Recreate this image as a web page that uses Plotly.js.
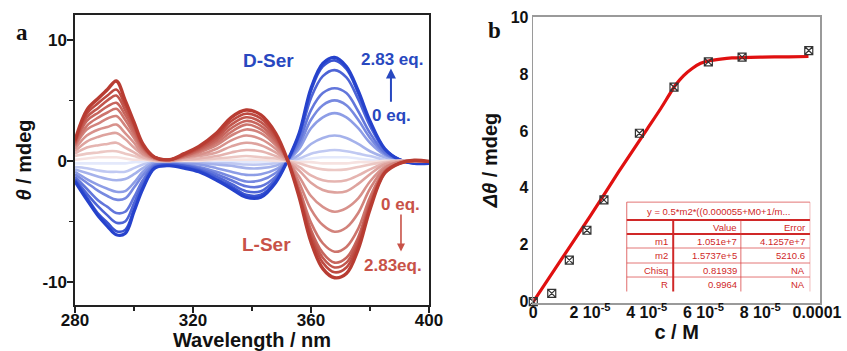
<!DOCTYPE html>
<html>
<head>
<meta charset="utf-8">
<script src="https://cdn.plot.ly/plotly-3.0.1.min.js"></script>
<style>html,body{margin:0;padding:0;background:#fff;}#chart{width:847px;height:351px;}</style>
</head>
<body>
<div id="chart"></div>
<script>
// ---------- Panel a: CD spectra ----------
const wavelength = [280, 284, 288, 291, 294, 297, 300, 303, 307, 312, 317, 322, 328, 333, 338, 343, 348, 352, 356, 360, 364, 368, 372, 376, 380, 385, 390, 395, 400];

// L-Ser titration, 0 eq. -> 2.83 eq.
const lSer0  = [0.1, 0.2, 0.3, 0.3, 0.3, 0.2, 0.1, 0.1, 0.0, 0.0, 0.0, 0.0, 0.1, 0.1, 0.1, 0.1, 0.0, 0.0, -0.1, -0.1, -0.2, -0.2, -0.2, -0.1, -0.1, 0.0, 0.0, 0.0, 0.0];
const lSer1  = [0.4, 0.6, 0.7, 0.8, 0.8, 0.6, 0.4, 0.2, 0.0, 0.0, 0.1, 0.1, 0.2, 0.3, 0.4, 0.3, 0.2, 0.0, -0.2, -0.5, -0.7, -0.75, -0.7, -0.5, -0.3, -0.1, 0.0, 0.0, -0.05];
const lSer2  = [0.6, 1.1, 1.3, 1.4, 1.5, 1.1, 0.7, 0.3, 0.1, 0.0, 0.1, 0.2, 0.4, 0.7, 0.9, 0.8, 0.4, 0.0, -0.5, -1.2, -1.6, -1.7, -1.6, -1.2, -0.7, -0.2, 0.0, 0.0, -0.05];
const lSer3  = [0.8, 1.6, 2.0, 2.2, 2.3, 1.8, 1.1, 0.5, 0.1, 0.0, 0.2, 0.4, 0.7, 1.2, 1.5, 1.3, 0.7, 0.0, -0.8, -1.8, -2.4, -2.6, -2.5, -1.9, -1.1, -0.3, -0.1, 0.0, -0.05];
const lSer4  = [1.0, 2.1, 2.6, 2.8, 3.0, 2.3, 1.5, 0.6, 0.2, 0.0, 0.3, 0.5, 1.0, 1.7, 2.1, 1.8, 1.0, 0.0, -1.3, -2.9, -3.8, -4.2, -3.9, -3.1, -1.7, -0.5, -0.1, 0.0, -0.05];
const lSer5  = [1.2, 2.6, 3.1, 3.5, 3.7, 2.9, 1.9, 0.8, 0.2, 0.1, 0.3, 0.7, 1.3, 2.1, 2.6, 2.3, 1.3, 0.1, -1.8, -4.0, -5.3, -5.85, -5.5, -4.3, -2.3, -0.6, -0.1, 0.0, -0.05];
const lSer6  = [1.3, 2.9, 3.6, 4.0, 4.3, 3.4, 2.2, 1.0, 0.2, 0.1, 0.4, 0.8, 1.5, 2.4, 3.0, 2.6, 1.5, 0.1, -2.3, -5.1, -6.8, -7.5, -7.1, -5.6, -3.0, -0.8, -0.2, 0.0, -0.05];
const lSer7  = [1.4, 3.3, 4.0, 4.5, 4.8, 3.8, 2.5, 1.1, 0.3, 0.1, 0.4, 0.9, 1.7, 2.7, 3.3, 2.9, 1.7, 0.1, -2.5, -5.7, -7.6, -8.4, -8.0, -6.3, -3.4, -0.9, -0.2, 0.0, -0.05];
const lSer8  = [1.5, 3.6, 4.4, 5.0, 5.4, 4.2, 2.8, 1.2, 0.3, 0.1, 0.5, 1.0, 1.9, 3.0, 3.6, 3.2, 1.9, 0.1, -2.7, -6.0, -8.0, -8.8, -8.4, -6.6, -3.6, -0.9, -0.2, 0.0, -0.05];
const lSer9  = [1.6, 3.9, 4.8, 5.4, 5.9, 4.6, 3.0, 1.3, 0.3, 0.1, 0.5, 1.1, 2.1, 3.3, 3.9, 3.5, 2.1, 0.1, -2.8, -6.3, -8.4, -9.2, -8.8, -6.9, -3.8, -1.0, -0.2, 0.05, -0.05];
const lSer10 = [1.7, 4.2, 5.2, 5.9, 6.6, 5.0, 3.2, 1.4, 0.3, 0.1, 0.6, 1.2, 2.3, 3.6, 4.2, 3.8, 2.3, 0.1, -3.0, -6.7, -8.9, -9.65, -9.3, -7.3, -4.0, -1.0, -0.2, 0.05, -0.05];

// D-Ser titration, 0 eq. -> 2.83 eq.
const dSer0 = [-0.2, -0.2, -0.2, -0.2, -0.2, -0.2, -0.1, -0.1, 0.0, 0.0, 0.0, 0.0, -0.1, -0.1, -0.1, -0.1, -0.1, 0.0, 0.1, 0.2, 0.3, 0.3, 0.3, 0.2, 0.1, 0.0, 0.0, 0.0, 0.0];
const dSer1 = [-0.5, -0.6, -0.8, -0.9, -0.9, -0.9, -0.6, -0.3, -0.1, -0.1, -0.1, -0.1, -0.2, -0.2, -0.3, -0.3, -0.2, 0.0, 0.2, 0.6, 0.8, 0.9, 0.8, 0.6, 0.4, 0.1, 0.0, -0.1, -0.1];
const dSer2 = [-0.7, -1.0, -1.3, -1.5, -1.6, -1.5, -1.1, -0.6, -0.1, -0.1, -0.1, -0.2, -0.3, -0.4, -0.6, -0.6, -0.4, 0.0, 0.5, 1.4, 1.9, 2.1, 1.9, 1.4, 0.8, 0.3, 0.0, -0.1, -0.1];
const dSer3 = [-0.9, -1.5, -2.0, -2.3, -2.55, -2.5, -1.8, -0.9, -0.2, -0.2, -0.2, -0.3, -0.6, -0.9, -1.15, -1.1, -0.7, 0.0, 1.0, 2.7, 3.6, 3.95, 3.6, 2.7, 1.5, 0.5, 0.1, -0.1, -0.2];
const dSer4 = [-1.1, -1.8, -2.5, -2.9, -3.2, -3.1, -2.2, -1.2, -0.3, -0.2, -0.3, -0.5, -0.9, -1.3, -1.7, -1.6, -1.0, 0.0, 1.3, 3.4, 4.6, 5.0, 4.6, 3.4, 1.9, 0.6, 0.1, -0.1, -0.2];
const dSer5 = [-1.3, -2.3, -3.3, -3.8, -4.3, -4.2, -3.0, -1.6, -0.4, -0.3, -0.4, -0.6, -1.1, -1.6, -2.1, -2.1, -1.3, 0.0, 1.6, 4.2, 5.6, 6.0, 5.6, 4.1, 2.3, 0.7, 0.1, -0.2, -0.2];
const dSer6 = [-1.5, -2.7, -3.8, -4.5, -5.1, -5.0, -3.5, -1.9, -0.5, -0.3, -0.4, -0.7, -1.3, -1.9, -2.5, -2.5, -1.5, 0.0, 2.0, 5.2, 7.0, 7.5, 6.9, 5.1, 2.9, 0.9, 0.1, -0.2, -0.2];
const dSer7 = [-1.6, -3.0, -4.4, -5.1, -5.8, -5.7, -4.0, -2.2, -0.6, -0.4, -0.5, -0.8, -1.5, -2.1, -2.8, -2.8, -1.7, 0.0, 2.2, 5.8, 7.8, 8.3, 7.6, 5.6, 3.2, 1.0, 0.1, -0.2, -0.2];
const dSer8 = [-1.7, -3.2, -4.6, -5.4, -6.1, -6.0, -4.2, -2.3, -0.6, -0.4, -0.6, -0.9, -1.6, -2.3, -3.0, -3.0, -1.8, 0.0, 2.3, 6.0, 8.05, 8.55, 7.8, 5.8, 3.3, 1.0, 0.1, -0.2, -0.2];

const lSerCurves = [lSer0, lSer1, lSer2, lSer3, lSer4, lSer5, lSer6, lSer7, lSer8, lSer9, lSer10];
const dSerCurves = [dSer0, dSer1, dSer2, dSer3, dSer4, dSer5, dSer6, dSer7, dSer8];

const yTickVals1 = [-10, 0, 10];
const yTickText1 = ['-10', '0', '10'];

// ---------- Panel b: titration fit ----------
const conc = [0, 0.65e-5, 1.27e-5, 1.89e-5, 2.49e-5, 3.74e-5, 4.96e-5, 6.17e-5, 7.36e-5, 9.71e-5];
const deltaTheta = [0, 0.29, 1.46, 2.51, 3.58, 5.92, 7.54, 8.43, 8.60, 8.83];
const fitConc = [0, 1e-5, 2e-5, 3e-5, 4e-5, 4.5e-5, 5e-5, 5.3e-5, 5.6e-5, 5.9e-5, 6.2e-5, 6.6e-5, 7e-5, 8e-5, 9e-5, 9.7e-5];
const fitTheta = [0, 1.5, 3.0, 4.55, 6.05, 6.8, 7.6, 7.95, 8.2, 8.38, 8.47, 8.53, 8.57, 8.6, 8.61, 8.62];

const xTickVals2 = [0, 2e-5, 4e-5, 6e-5, 8e-5, 1e-4];
const xTickText2 = ['0', '2 10<sup>-5</sup>', '4 10<sup>-5</sup>', '6 10<sup>-5</sup>', '8 10<sup>-5</sup>', '0.0001'];

const fitEquation = 'y = 0.5*m2*((0.000055+M0+1/m...';
const tableHeader = ['Value', 'Error'];
const tableParams = ['m1', 'm2', 'Chisq', 'R'];
const tableValues = ['1.051e+7', '1.5737e+5', '0.81939', '0.9964'];
const tableErrors = ['4.1257e+7', '5210.6', 'NA', 'NA'];

// ---------- styling helpers ----------
function mix(c0, c1, t) {
  return 'rgb(' + c0.map((v, i) => Math.round(v + (c1[i] - v) * t)).join(',') + ')';
}
const redLight = [246, 226, 224], redDark = [184, 60, 50];
const blueLight = [228, 233, 251], blueDark = [38, 66, 204];

const traces = [];
dSerCurves.forEach((ys, i) => {
  const t = i / (dSerCurves.length - 1);
  traces.push({
    x: wavelength, y: ys, type: 'scatter', mode: 'lines', xaxis: 'x', yaxis: 'y',
    line: {color: mix(blueLight, blueDark, Math.pow(t, 0.8)), width: i === dSerCurves.length - 1 ? 3.2 : 2.6, shape: 'spline', smoothing: 1},
    hoverinfo: 'skip', showlegend: false
  });
});
lSerCurves.forEach((ys, i) => {
  const t = i / (lSerCurves.length - 1);
  traces.push({
    x: wavelength, y: ys, type: 'scatter', mode: 'lines', xaxis: 'x', yaxis: 'y',
    line: {color: mix(redLight, redDark, Math.pow(t, 0.8)), width: i === lSerCurves.length - 1 ? 3.4 : 2.6, shape: 'spline', smoothing: 1},
    hoverinfo: 'skip', showlegend: false
  });
});
traces.push({
  x: fitConc, y: fitTheta, type: 'scatter', mode: 'lines', xaxis: 'x2', yaxis: 'y2',
  line: {color: '#e01010', width: 3.2, shape: 'spline', smoothing: 0.6}, showlegend: false
});
traces.push({
  x: conc, y: deltaTheta, type: 'scatter', mode: 'markers', xaxis: 'x2', yaxis: 'y2', cliponaxis: false,
  marker: {symbol: 'square-x-open', size: 8, color: '#333', line: {width: 1.2}}, showlegend: false
});

const FONT = 'Liberation Sans, Arial, sans-serif';
const SERIF = 'Liberation Serif, Times New Roman, serif';
const blueTxt = 'rgb(40,72,192)', redTxt = 'rgb(200,82,72)';

function txt(xref, yref, x, y, text, font, extra) {
  return Object.assign({xref: xref, yref: yref, x: x, y: y, text: text, showarrow: false,
    xanchor: 'center', yanchor: 'middle', font: font}, extra || {});
}

const annotations = [
  txt('paper', 'paper', 22 / 847, 1 - 32 / 351, 'a', {family: SERIF, size: 23, weight: 'bold', color: '#111'}),
  txt('paper', 'paper', 494 / 847, 1 - 31 / 351, 'b', {family: SERIF, size: 23, weight: 'bold', color: '#111'}),
  txt('x', 'y', 345.5, 8.33, 'D-Ser', {family: FONT, size: 19, weight: 'bold', color: blueTxt}),
  txt('x', 'y', 387.6, 8.38, '2.83 eq.', {family: FONT, size: 17, weight: 'bold', color: blueTxt}),
  txt('x', 'y', 387.4, 3.79, '0 eq.', {family: FONT, size: 17, weight: 'bold', color: blueTxt}),
  {xref: 'x', yref: 'y', x: 387.1, y: 7.64, ax: 387.1, ay: 4.76, axref: 'x', ayref: 'y', text: '', showarrow: true, arrowhead: 2, arrowsize: 1, arrowwidth: 2, arrowcolor: blueTxt},
  txt('x', 'y', 345.0, -6.92, 'L-Ser', {family: FONT, size: 19, weight: 'bold', color: redTxt}),
  txt('x', 'y', 390.4, -3.63, '0 eq.', {family: FONT, size: 17, weight: 'bold', color: redTxt}),
  txt('x', 'y', 387.8, -8.66, '2.83eq.', {family: FONT, size: 17, weight: 'bold', color: redTxt}),
  {xref: 'x', yref: 'y', x: 390.5, y: -7.48, ax: 390.5, ay: -4.31, axref: 'x', ayref: 'y', text: '', showarrow: true, arrowhead: 2, arrowsize: 1, arrowwidth: 1.6, arrowcolor: redTxt}
];

// table inside panel b (positions in x2/y2 domain units)
const tRed = 'rgb(208,40,40)';
const tx0 = 0.326, tx1 = 0.965, tcol1 = 0.488, tcol2 = 0.724;
const rowEdges = [0.353, 0.2905, 0.2417, 0.1929, 0.1406, 0.0917, 0.0412];
const shapes = [];
rowEdges.slice(0, 6).forEach((yy, i) => {
  const thick = (i === 1 || i === 2);
  shapes.push({type: 'line', xref: 'x2 domain', yref: 'y2 domain', x0: tx0, x1: tx1, y0: yy, y1: yy,
    line: {color: thick ? tRed : 'rgba(215,60,60,0.7)', width: thick ? 2 : 1}});
});
shapes.push({type: 'line', xref: 'x2 domain', yref: 'y2 domain', x0: tx0, x1: tx0, y0: rowEdges[0], y1: rowEdges[6], line: {color: 'rgba(215,60,60,0.75)', width: 1}});
shapes.push({type: 'line', xref: 'x2 domain', yref: 'y2 domain', x0: tcol1, x1: tcol1, y0: rowEdges[1], y1: rowEdges[6], line: {color: tRed, width: 2}});
shapes.push({type: 'line', xref: 'x2 domain', yref: 'y2 domain', x0: tcol2, x1: tcol2, y0: rowEdges[1], y1: rowEdges[6], line: {color: 'rgba(215,60,60,0.75)', width: 1}});
shapes.push({type: 'line', xref: 'x2 domain', yref: 'y2 domain', x0: tx1, x1: tx1, y0: rowEdges[0], y1: rowEdges[6], line: {color: 'rgba(215,60,60,0.35)', width: 1}});

const tFont = {family: FONT, size: 9.5, color: tRed};
function rowMid(i) { return (rowEdges[i] + rowEdges[i + 1]) / 2; }
annotations.push(txt('x2 domain', 'y2 domain', (tx0 + tx1) / 2, rowMid(0), fitEquation, tFont));
annotations.push(txt('x2 domain', 'y2 domain', tcol2 - 0.008, rowMid(1), tableHeader[0], tFont, {xanchor: 'right'}));
annotations.push(txt('x2 domain', 'y2 domain', tx1 - 0.012, rowMid(1), tableHeader[1], tFont, {xanchor: 'right'}));
tableParams.forEach((p, i) => {
  annotations.push(txt('x2 domain', 'y2 domain', tcol1 - 0.012, rowMid(i + 2), p, tFont, {xanchor: 'right'}));
  annotations.push(txt('x2 domain', 'y2 domain', tcol2 - 0.008, rowMid(i + 2), tableValues[i], tFont, {xanchor: 'right'}));
  annotations.push(txt('x2 domain', 'y2 domain', tx1 - 0.012, rowMid(i + 2), tableErrors[i], tFont, {xanchor: 'right'}));
});

const tickFont = {family: FONT, size: 17, weight: 'bold', color: '#111'};
const tickFont2 = {family: FONT, size: 16, weight: 'bold', color: '#111'};
const layout = {
  width: 847, height: 351,
  margin: {l: 0, r: 0, t: 0, b: 0},
  paper_bgcolor: '#fff', plot_bgcolor: '#fff',
  font: {family: FONT, color: '#111'},
  showlegend: false,
  xaxis: {
    domain: [75 / 847, 429 / 847], range: [280, 400], anchor: 'y',
    tickmode: 'array', tickvals: [280, 320, 360, 400], ticks: 'outside', ticklen: 6, tickwidth: 1.5, tickcolor: '#222',
    minor: {tickmode: 'array', tickvals: [300, 340, 380], ticks: 'outside', ticklen: 4, tickwidth: 1.5, tickcolor: '#222'},
    showline: true, linecolor: '#222', linewidth: 1.6, mirror: true, showgrid: false, zeroline: false,
    tickfont: tickFont, automargin: false, ticklabelstandoff: -7,
    title: {text: 'Wavelength / nm', font: {family: FONT, size: 20, weight: 'bold', color: '#111'}, standoff: 9}
  },
  yaxis: {
    domain: [1 - 305 / 351, 1 - 15 / 351], range: [-11.9, 12.05], anchor: 'x',
    tickmode: 'array', tickvals: yTickVals1, ticktext: yTickText1, ticks: 'outside', ticklen: 6, tickwidth: 1.5, tickcolor: '#222',
    minor: {tickmode: 'array', tickvals: [-5, 5], ticks: 'outside', ticklen: 4, tickwidth: 1.5, tickcolor: '#222'},
    showline: true, linecolor: '#222', linewidth: 1.6, mirror: true, showgrid: false, zeroline: false,
    tickfont: tickFont, automargin: false, ticklabelstandoff: -3,
    title: {text: '<i>θ</i> / mdeg', font: {family: FONT, size: 20, weight: 'bold', color: '#111'}, standoff: 5}
  },
  xaxis2: {
    domain: [533.3 / 847, 820 / 847], range: [0, 1.0106e-4], anchor: 'y2',
    tickmode: 'array', tickvals: xTickVals2, ticktext: xTickText2, ticks: '',
    showline: true, linecolor: '#9a9a9a', linewidth: 1.6, mirror: true, showgrid: false, zeroline: false,
    tickfont: tickFont2, automargin: false, ticklabelstandoff: -6,
    title: {text: 'c / M', font: {family: FONT, size: 20, weight: 'bold', color: '#111'}, standoff: 0}
  },
  yaxis2: {
    domain: [1 - 303.3 / 351, 1 - 16.7 / 351], range: [-0.06, 10.02], anchor: 'x2',
    tickmode: 'array', tickvals: [0, 2, 4, 6, 8, 10], ticks: '',
    showline: true, linecolor: '#9a9a9a', linewidth: 1.6, mirror: true, showgrid: false, zeroline: false,
    tickfont: tickFont2, automargin: false,
    title: {text: '<i>Δθ</i> / mdeg', font: {family: FONT, size: 20, weight: 'bold', color: '#111'}, standoff: 8}
  },
  annotations: annotations,
  shapes: shapes
};

Plotly.newPlot('chart', traces, layout, {displayModeBar: false, staticPlot: true});
</script>
</body>
</html>
